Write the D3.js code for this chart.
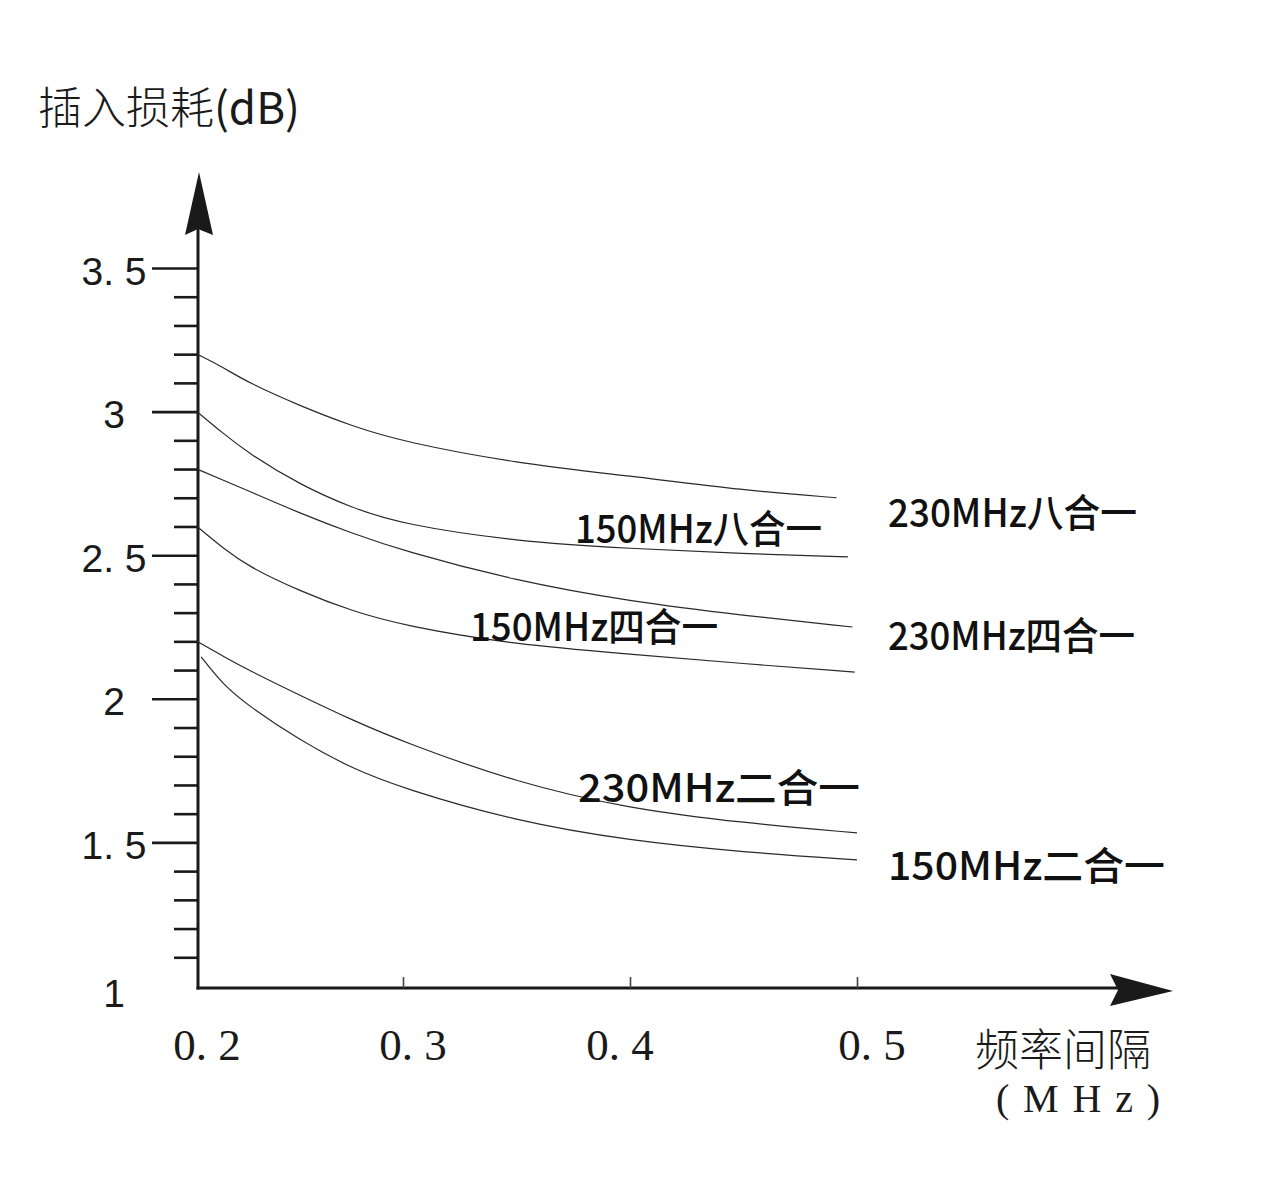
<!DOCTYPE html>
<html>
<head>
<meta charset="utf-8">
<script src="https://cdn.jsdelivr.net/npm/d3@7"></script>
<style>
  html, body { margin: 0; padding: 0; background: #fff; }
  svg { display: block; }
</style>
</head>
<body>
<div id="chart"></div>
<script>
// ---------------- data ----------------
const seriesNames = ["230MHz八合一", "150MHz八合一", "230MHz四合一", "150MHz四合一", "230MHz二合一", "150MHz二合一"];

const freq230x8 = [0.2, 0.2125, 0.225, 0.25, 0.275, 0.3, 0.35, 0.4, 0.45, 0.491];
const loss230x8 = [3.20, 3.155, 3.10, 3.02, 2.95, 2.895, 2.82, 2.776, 2.726, 2.70];

const freq150x8 = [0.2, 0.2125, 0.225, 0.25, 0.275, 0.3, 0.35, 0.4, 0.45, 0.496];
const loss150x8 = [3.00, 2.925, 2.855, 2.745, 2.665, 2.607, 2.548, 2.523, 2.505, 2.494];

const freq230x4 = [0.2, 0.2125, 0.225, 0.25, 0.275, 0.3, 0.35, 0.4, 0.45, 0.498];
const loss230x4 = [2.80, 2.762, 2.724, 2.646, 2.577, 2.515, 2.41, 2.339, 2.29, 2.25];

const freq150x4 = [0.2, 0.2125, 0.225, 0.25, 0.275, 0.3, 0.35, 0.4, 0.45, 0.499];
const loss150x4 = [2.60, 2.525, 2.46, 2.375, 2.306, 2.255, 2.188, 2.156, 2.122, 2.093];

const freq230x2 = [0.2, 0.2125, 0.225, 0.25, 0.275, 0.3, 0.35, 0.4, 0.45, 0.5];
const loss230x2 = [2.20, 2.149, 2.10, 2.012, 1.927, 1.85, 1.708, 1.617, 1.568, 1.533];

const freq150x2 = [0.202, 0.2125, 0.225, 0.25, 0.275, 0.3, 0.35, 0.4, 0.45, 0.5];
const loss150x2 = [2.146, 2.05, 1.975, 1.855, 1.758, 1.688, 1.573, 1.506, 1.466, 1.439];

const xTickValues = [0.2, 0.3, 0.4, 0.5];
const xTickLabels = ["0. 2", "0. 3", "0. 4", "0. 5"];
const yMajorValues = [1, 1.5, 2, 2.5, 3, 3.5];
const yMajorLabels = ["1", "1. 5", "2", "2. 5", "3", "3. 5"];
const yMinorValues = [1.1,1.2,1.3,1.4,1.6,1.7,1.8,1.9,2.1,2.2,2.3,2.4,2.6,2.7,2.8,2.9,3.1,3.2,3.3,3.4];

const yTitle = "插入损耗";
const yTitleUnit = "(dB)";
const xTitle = "频率间隔";
const xTitleUnit = "(MHz)";

// ---------------- layout ----------------
const W = 1263, H = 1196;
const svg = d3.select("#chart").append("svg").attr("width", W).attr("height", H);
svg.append("rect").attr("width", W).attr("height", H).attr("fill", "#fff");

const axisX = 198, axisY = 988;
// piecewise linear scale matches the printed (uneven) tick spacing
const x = d3.scaleLinear().domain([0.2, 0.3, 0.4, 0.5]).range([197, 403, 630, 857]);
const y = d3.scaleLinear().domain([1, 3.5]).range([986, 268]);

const ink = "#1a1a1a";

// y axis line + arrow
svg.append("line").attr("x1", axisX).attr("x2", axisX).attr("y1", axisY + 1.5).attr("y2", 228)
  .attr("stroke", ink).attr("stroke-width", 3);
svg.append("path").attr("d", `M${axisX+1},172 L${axisX+15},235 L${axisX},229 L${axisX-13},235 Z`).attr("fill", ink);

// x axis line + arrow
svg.append("line").attr("x1", axisX - 1.5).attr("x2", 1120).attr("y1", axisY).attr("y2", axisY)
  .attr("stroke", ink).attr("stroke-width", 3);
svg.append("path").attr("d", `M1173,${axisY+3} L1110,${axisY-14} L1118,${axisY+2} L1110,${axisY+18} Z`).attr("fill", ink);

// y ticks via d3 axes
const gMajor = svg.append("g").attr("transform", `translate(${axisX},0)`)
  .call(d3.axisLeft(y).tickValues(yMajorValues.filter(v => v > 1)).tickSize(46).tickFormat(""));
const gMinor = svg.append("g").attr("transform", `translate(${axisX},0)`)
  .call(d3.axisLeft(y).tickValues(yMinorValues).tickSize(24).tickFormat(""));
[gMajor, gMinor].forEach(g => {
  g.select(".domain").remove();
  g.selectAll(".tick line").attr("stroke", ink).attr("stroke-width", 2.6);
});

// y tick labels
svg.append("g").selectAll("text").data(yMajorValues).join("text")
  .attr("x", 114)
  .attr("y", (d) => y(d) + (d === 1 ? 7 : 3))
  .attr("text-anchor", "middle")
  .attr("dominant-baseline", "central")
  .attr("font-family", "'Liberation Sans', Arial, sans-serif")
  .attr("font-size", 39)
  .attr("fill", ink)
  .text((d, i) => yMajorLabels[i]);

// x ticks
const gx = svg.append("g").attr("transform", `translate(0,${axisY})`)
  .call(d3.axisTop(x).tickValues(xTickValues.filter(v => v > 0.2)).tickSize(11).tickFormat(""));
gx.select(".domain").remove();
gx.selectAll(".tick line").attr("stroke", "#444").attr("stroke-width", 1.6);

// x tick labels
const xLabelShift = [10, 10, -10, 15];
svg.append("g").selectAll("text").data(xTickValues).join("text")
  .attr("x", (d, i) => x(d) + xLabelShift[i])
  .attr("y", 1060)
  .attr("text-anchor", "middle")
  .attr("font-family", "'Liberation Serif', 'Times New Roman', serif")
  .attr("font-size", 45)
  .attr("fill", ink)
  .text((d, i) => xTickLabels[i]);

// curves
const seriesData = [
  [freq230x8, loss230x8], [freq150x8, loss150x8],
  [freq230x4, loss230x4], [freq150x4, loss150x4],
  [freq230x2, loss230x2], [freq150x2, loss150x2]
].map(([fx, ly]) => fx.map((f, i) => [f, ly[i]]));

const line = d3.line().x(d => x(d[0])).y(d => y(d[1])).curve(d3.curveBasis);
svg.append("g").selectAll("path").data(seriesData).join("path")
  .attr("d", line)
  .attr("fill", "none")
  .attr("stroke", "#2a2a2a")
  .attr("stroke-width", 1.2);

// series labels (annotation layout)
const labelLayout = [
  { x: 888, y: 527, w: 249 },
  { x: 575, y: 543, w: 247 },
  { x: 888, y: 650, w: 247 },
  { x: 470, y: 641, w: 248 },
  { x: 578, y: 802, w: 282 },
  { x: 888, y: 880, w: 277 }
];
svg.append("g").selectAll("text").data(seriesNames).join("text")
  .attr("x", (d, i) => labelLayout[i].x)
  .attr("y", (d, i) => labelLayout[i].y)
  .attr("textLength", (d, i) => labelLayout[i].w)
  .attr("lengthAdjust", "spacingAndGlyphs")
  .attr("font-family", "'Noto Sans CJK SC', sans-serif")
  .attr("font-weight", 500)
  .attr("font-size", 39)
  .attr("fill", "#111")
  .text(d => d);

// y axis title
const yt = svg.append("text").attr("x", 38).attr("y", 124)
  .attr("font-family", "'Noto Sans CJK SC', sans-serif").attr("font-size", 44).attr("fill", ink);
yt.append("tspan").attr("font-weight", 300).text(yTitle);
yt.append("tspan").attr("font-weight", 400).text(yTitleUnit);

// x axis title
svg.append("text").attr("x", 975).attr("y", 1066)
  .attr("font-family", "'Noto Sans CJK SC', sans-serif").attr("font-weight", 300)
  .attr("font-size", 44).attr("fill", ink).text(xTitle);
svg.append("text").attr("x", 996).attr("y", 1112)
  .attr("textLength", 164).attr("lengthAdjust", "spacing")
  .attr("font-family", "'Liberation Serif', 'Times New Roman', serif")
  .attr("font-size", 40).attr("fill", ink).text(xTitleUnit);
</script>
</body>
</html>
